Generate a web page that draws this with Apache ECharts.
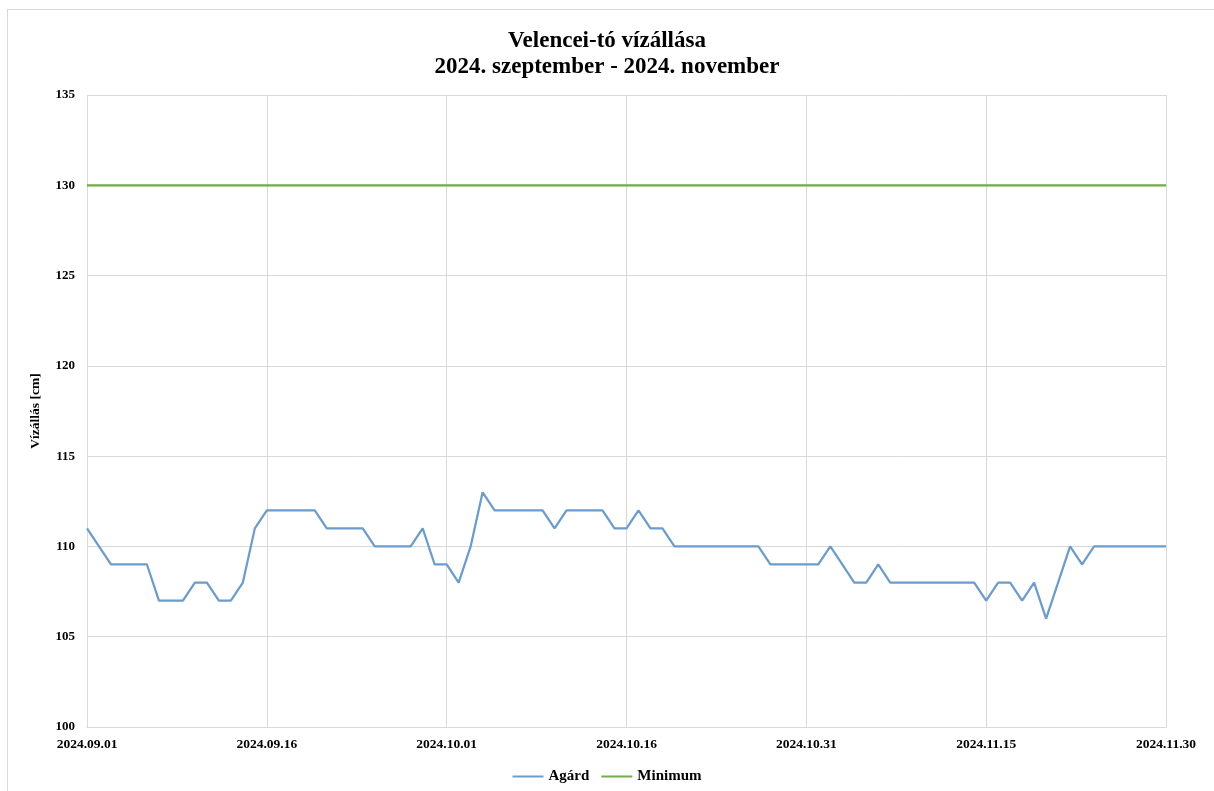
<!DOCTYPE html>
<html>
<head>
<meta charset="utf-8">
<script src="https://cdn.jsdelivr.net/npm/echarts@6/dist/echarts.min.js"></script>
<style>
  html, body { margin: 0; padding: 0; background: #fff; }
  #frame { position: absolute; left: 7px; top: 9px; width: 1220px; height: 800px; border: 1px solid #d9d9d9; box-sizing: border-box; }
  #chart { position: absolute; left: 0; top: 0; width: 1214px; height: 791px; }
</style>
</head>
<body>
<div id="frame"></div>
<div id="chart"></div>
<script>
// napok (x tengely)
var dates = [
  '2024.09.01','2024.09.02','2024.09.03','2024.09.04','2024.09.05','2024.09.06','2024.09.07','2024.09.08','2024.09.09','2024.09.10',
  '2024.09.11','2024.09.12','2024.09.13','2024.09.14','2024.09.15','2024.09.16','2024.09.17','2024.09.18','2024.09.19','2024.09.20',
  '2024.09.21','2024.09.22','2024.09.23','2024.09.24','2024.09.25','2024.09.26','2024.09.27','2024.09.28','2024.09.29','2024.09.30',
  '2024.10.01','2024.10.02','2024.10.03','2024.10.04','2024.10.05','2024.10.06','2024.10.07','2024.10.08','2024.10.09','2024.10.10',
  '2024.10.11','2024.10.12','2024.10.13','2024.10.14','2024.10.15','2024.10.16','2024.10.17','2024.10.18','2024.10.19','2024.10.20',
  '2024.10.21','2024.10.22','2024.10.23','2024.10.24','2024.10.25','2024.10.26','2024.10.27','2024.10.28','2024.10.29','2024.10.30',
  '2024.10.31','2024.11.01','2024.11.02','2024.11.03','2024.11.04','2024.11.05','2024.11.06','2024.11.07','2024.11.08','2024.11.09',
  '2024.11.10','2024.11.11','2024.11.12','2024.11.13','2024.11.14','2024.11.15','2024.11.16','2024.11.17','2024.11.18','2024.11.19',
  '2024.11.20','2024.11.21','2024.11.22','2024.11.23','2024.11.24','2024.11.25','2024.11.26','2024.11.27','2024.11.28','2024.11.29',
  '2024.11.30'
];

// Agárd vízállás [cm]
var agard = [
  111, 110, 109, 109, 109, 109, 107, 107, 107, 108,
  108, 107, 107, 108, 111, 112, 112, 112, 112, 112,
  111, 111, 111, 111, 110, 110, 110, 110, 111, 109,
  109, 108, 110, 113, 112, 112, 112, 112, 112, 111,
  112, 112, 112, 112, 111, 111, 112, 111, 111, 110,
  110, 110, 110, 110, 110, 110, 110, 109, 109, 109,
  109, 109, 110, 109, 108, 108, 109, 108, 108, 108,
  108, 108, 108, 108, 108, 107, 108, 108, 107, 108,
  106, 108, 110, 109, 110, 110, 110, 110, 110, 110,
  110
];

// minimum vízszint
var minimumLevel = 130;
var minimum = dates.map(function () { return minimumLevel; });

var yTicks = { min: 100, max: 135, interval: 5 };

var serif = '"Liberation Serif", "Times New Roman", serif';

var chart = echarts.init(document.getElementById('chart'));
var option = {
  animation: false,
  title: {
    text: 'Velencei-tó vízállása\n2024. szeptember - 2024. november',
    left: 'center',
    top: 23,
    textStyle: {
      fontFamily: serif,
      fontWeight: 'bold',
      fontSize: 23,
      lineHeight: 26,
      color: '#000'
    }
  },
  legend: {
    bottom: 2,
    left: 'center',
    icon: 'rect',
    itemWidth: 31,
    itemHeight: 2,
    itemGap: 12,
    textStyle: { fontFamily: serif, fontWeight: 'bold', fontSize: 15, color: '#000' },
    data: ['Agárd', 'Minimum']
  },
  grid: { left: 87, right: 48, top: 95, bottom: 64 },
  xAxis: {
    type: 'category',
    data: dates,
    boundaryGap: false,
    axisLine: { lineStyle: { color: '#d9d9d9' } },
    axisTick: { show: false },
    axisLabel: {
      interval: 14,
      margin: 11,
      fontFamily: serif,
      fontWeight: 'bold',
      fontSize: 13.5,
      color: '#000'
    },
    splitLine: { show: true, interval: 14, lineStyle: { color: '#d9d9d9' } }
  },
  yAxis: {
    type: 'value',
    min: yTicks.min,
    max: yTicks.max,
    interval: yTicks.interval,
    name: 'Vízállás [cm]',
    nameLocation: 'middle',
    nameGap: 44,
    nameRotate: 90,
    nameTextStyle: { fontFamily: serif, fontWeight: 'bold', fontSize: 13.5, color: '#000' },
    axisLine: { show: false },
    axisTick: { show: false },
    axisLabel: { fontFamily: serif, fontWeight: 'bold', fontSize: 13, color: '#000', margin: 12 },
    splitLine: { lineStyle: { color: '#d9d9d9' } }
  },
  series: [
    {
      name: 'Agárd',
      type: 'line',
      data: agard,
      showSymbol: false,
      symbol: 'none',
      lineStyle: { color: '#6a9ccf', width: 2.25 },
      itemStyle: { color: '#6a9ccf' }
    },
    {
      name: 'Minimum',
      type: 'line',
      data: minimum,
      showSymbol: false,
      symbol: 'none',
      lineStyle: { color: '#70ad47', width: 2.25 },
      itemStyle: { color: '#70ad47' }
    }
  ]
};
chart.setOption(option);
</script>
</body>
</html>
